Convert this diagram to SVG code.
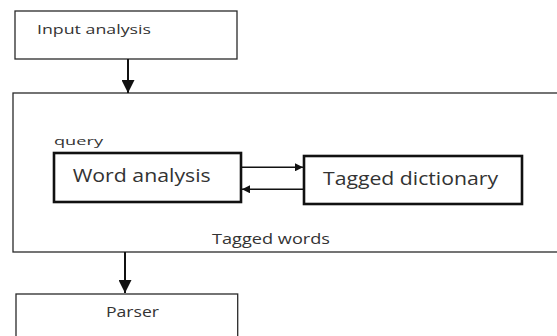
<svg xmlns="http://www.w3.org/2000/svg" width="557" height="336" viewBox="0 0 557 336">
<style>
.box{fill:#fff;stroke:#2a2a2a;stroke-width:1.3}
.thick{fill:#fff;stroke:#111;stroke-width:2.6}
.t{font-family:"Open Sans","DejaVu Sans",sans-serif;fill:#333}
.conn{stroke:#111;fill:none}
</style>
<defs>
<marker id="ah" viewBox="0 0 10 10" refX="10" refY="5" markerWidth="6.5" markerHeight="6.5" markerUnits="strokeWidth" orient="auto">
<path d="M0,0 L10,5 L0,10 Z" fill="#111"/>
</marker>
<marker id="ahs" viewBox="0 0 10 10" refX="10" refY="5" markerWidth="6.5" markerHeight="5" markerUnits="strokeWidth" orient="auto">
<path d="M0,0 L10,5 L0,10 Z" fill="#111"/>
</marker>
</defs>
<rect width="557" height="336" fill="#fff"/>
<g id="input-analysis">
<rect class="box" x="15" y="11" width="222" height="48"/>
<text class="t" x="37" y="33.5" font-size="13.5" textLength="114" lengthAdjust="spacingAndGlyphs">Input analysis</text>
</g>
<g id="container">
<rect class="box" x="13" y="93" width="550" height="159"/>
<text class="t" x="54" y="144.7" font-size="11" textLength="49" lengthAdjust="spacingAndGlyphs">query</text>
<text class="t" x="212" y="243.5" font-size="15" textLength="118" lengthAdjust="spacingAndGlyphs">Tagged words</text>
</g>
<g id="word-analysis">
<rect class="thick" x="54" y="153" width="187" height="49"/>
<text class="t" x="72.7" y="181.7" font-size="18" textLength="138" lengthAdjust="spacingAndGlyphs">Word analysis</text>
</g>
<g id="tagged-dictionary">
<rect class="thick" x="304" y="156" width="218" height="48"/>
<text class="t" x="323" y="185" font-size="18" textLength="175" lengthAdjust="spacingAndGlyphs">Tagged dictionary</text>
</g>
<g id="parser">
<rect class="box" x="16" y="294" width="221.7" height="50"/>
<text class="t" x="106" y="317.3" font-size="14" textLength="53" lengthAdjust="spacingAndGlyphs">Parser</text>
</g>
<g id="connectors">
<line class="conn" x1="128" y1="59" x2="128" y2="93" stroke-width="2" marker-end="url(#ah)"/>
<line class="conn" x1="125" y1="252" x2="125" y2="293" stroke-width="2" marker-end="url(#ah)"/>
<line class="conn" x1="241" y1="167.3" x2="303" y2="167.3" stroke-width="1.6" marker-end="url(#ahs)"/>
<line class="conn" x1="304" y1="189.3" x2="242" y2="189.3" stroke-width="1.6" marker-end="url(#ahs)"/>
</g>
</svg>
